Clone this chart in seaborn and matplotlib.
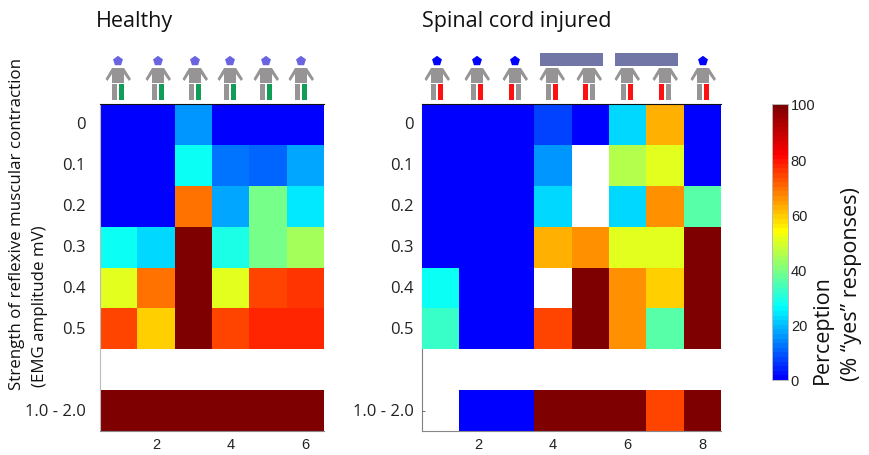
import numpy as np
import pandas as pd
import matplotlib
matplotlib.use("Agg")
import matplotlib.pyplot as plt
import seaborn as sns
from matplotlib.colors import LinearSegmentedColormap
from matplotlib.patches import Polygon, Rectangle

nan = np.nan

strength_labels = ["0", "0.1", "0.2", "0.3", "0.4", "0.5", "", "1.0 - 2.0"]
healthy_cols = [1, 2, 3, 4, 5, 6]
injured_cols = [1, 2, 3, 4, 5, 6, 7, 8]

healthy = [
    [0, 0, 16.5, 0, 0, 0],
    [0, 0, 27.5, 12, 10, 18],
    [0, 0, 69.5, 18, 39, 24],
    [27, 22, 100, 29, 39, 44],
    [51, 69.5, 100, 51, 73.5, 76.5],
    [73.5, 59.5, 100, 73.5, 78, 78],
    [nan, nan, nan, nan, nan, nan],
    [100, 100, 100, 100, 100, 100],
]
injured = [
    [0, 0, 0, 7.5, 0, 22, 62.5, 0],
    [0, 0, 0, 16.5, nan, 45, 51, 0],
    [0, 0, 0, 22, nan, 22, 66, 35.5],
    [0, 0, 0, 62.5, 66, 51, 51, 100],
    [27, 0, 0, nan, 100, 66, 59.5, 100],
    [33, 0, 0, 73.5, 100, 66, 35.5, 100],
    [nan, nan, nan, nan, nan, nan, nan, nan],
    [nan, 0, 0, 100, 100, 100, 73.5, 100],
]

# icon placement, px from the left of the figure (hand placed in the original)
healthy_icon_x = [118, 158, 195, 230, 266, 301]
injured_icon_x = [437, 477, 515, 552, 589, 627, 665, 703]
injured_red_leg = ["R", "R", "L", "R", "L", "R", "L", "R"]
injured_head = [True, True, True, False, False, False, False, True]

W, H = 870, 456
cmap = LinearSegmentedColormap.from_list(
    "jet_cut",
    [(0, "#0000ff"), (0.26, "#00ffff"), (0.54, "#ffff00"), (0.82, "#ff0000"), (1, "#7f0000")],
    N=60,
)

sns.set_theme(style="white")
plt.rcParams["font.family"] = ["Open Sans", "DejaVu Sans"]

fig = plt.figure(figsize=(W / 100, H / 100), dpi=100)


def add_axes(x0, y0, x1, y1):
    return fig.add_axes([x0 / W, 1 - y1 / H, (x1 - x0) / W, (y1 - y0) / H])


ax_h = add_axes(100, 105, 324, 432)
ax_i = add_axes(422, 105, 721, 432)
ax_c = add_axes(772, 105, 788, 381)

sns.heatmap(pd.DataFrame(healthy, index=strength_labels, columns=healthy_cols),
            ax=ax_h, cmap=cmap, vmin=0, vmax=100, cbar=False)
sns.heatmap(pd.DataFrame(injured, index=strength_labels, columns=injured_cols),
            ax=ax_i, cmap=cmap, vmin=0, vmax=100, cbar_ax=ax_c)

for ax, n, ypad, left_col in [(ax_h, 6, 10.5, "#bbbbbb"), (ax_i, 8, 6, "#808080")]:
    ax.set_xticks(np.arange(1.5, n, 2))
    ax.set_xticklabels(np.arange(2, n + 1, 2), rotation=0, fontsize=10.5,
                       family="Liberation Sans", color="#222222")
    ax.set_yticks(np.delete(np.arange(0.5, 8), 6))
    ax.set_yticklabels([s for s in strength_labels if s], rotation=0, fontsize=12, color="#222222")
    ax.tick_params(axis="x", direction="in", length=3, width=0.7, color="#222222", pad=4,
                   bottom=True, top=True)
    ax.tick_params(axis="y", direction="in", length=2.5, width=0.6, color="#555555", pad=ypad, left=True)
    ax.spines["bottom"].set_visible(True)
    ax.spines["bottom"].set_color("#888888")
    ax.spines["bottom"].set_linewidth(0.8)
    ax.spines["left"].set_visible(True)
    ax.spines["left"].set_color(left_col)
    ax.spines["left"].set_linewidth(0.8)
    ax.spines["top"].set_visible(True)
    ax.spines["top"].set_color("#111111")
    ax.spines["top"].set_linewidth(0.8)

ax_i.spines["left"].set_zorder(0.5)

ax_h.text(-0.02, 1.255, "Healthy", transform=ax_h.transAxes, fontsize=15.5, color="#111111", va="center")
ax_i.text(0, 1.255, "Spinal cord injured", transform=ax_i.transAxes, fontsize=15.5, color="#111111", va="center")

fig.text(17 / W, 1 - 224 / H, "Strength of reflexive muscular contraction", rotation=90,
         fontsize=12.2, color="#111111", ha="center", va="center")
fig.text(40 / W, 1 - 306 / H, "(EMG amplitude mV)", rotation=90,
         fontsize=12.2, color="#111111", ha="center", va="center")

ax_c.set_yticks([0, 20, 40, 60, 80, 100])
ax_c.set_yticklabels(["0", "20", "40", "60", "80", "100"], fontsize=10.5,
                     family="Liberation Sans", color="#222222")
ax_c.tick_params(axis="y", direction="in", length=2.5, width=0.6, pad=2, color="#222222", right=True)
for sp in ax_c.spines.values():
    sp.set_visible(True)
    sp.set_color("#bbbbbb")
    sp.set_linewidth(0.6)

fig.text(822 / W, 1 - 330 / H, "Perception", rotation=90, fontsize=15.5, color="#111111", ha="center", va="center")
fig.text(852 / W, 1 - 284 / H, "(% \u201cyes\u201d responses)", rotation=90, fontsize=15.5,
         color="#111111", ha="center", va="center")

# overlay in pixel coordinates for the little figures above the maps
ov = fig.add_axes([0, 0, 1, 1])
ov.set_xlim(0, W)
ov.set_ylim(H, 0)
ov.axis("off")
ov.patch.set_alpha(0)

GRAY = "#969494"


def person(x, leg_side, leg_color, head_color):
    ov.add_patch(Rectangle((x - 6, 69), 12.5, 15, color=GRAY, lw=0))
    ov.add_patch(Polygon([(x - 6, 69), (x - 12.5, 80), (x - 10.5, 82), (x - 6, 75)], color=GRAY, lw=0))
    ov.add_patch(Polygon([(x + 6, 69), (x + 13, 80), (x + 11, 82), (x + 6, 75)], color=GRAY, lw=0))
    left = leg_color if leg_side == "L" else GRAY
    right = leg_color if leg_side == "R" else GRAY
    ov.add_patch(Rectangle((x - 5.5, 85), 4.8, 16, color=left, lw=0))
    ov.add_patch(Rectangle((x + 1.5, 85), 4.2, 16, color=right, lw=0))
    if head_color:
        ang = np.deg2rad(90 + 72 * np.arange(5))
        ov.add_patch(Polygon(np.c_[x + 5.2 * np.cos(ang), 62 - 5.2 * np.sin(ang)], color=head_color, lw=0))


for x in healthy_icon_x:
    person(x, "R", "#0f9d58", "#6a64e0")
for x, side, has_head in zip(injured_icon_x, injured_red_leg, injured_head):
    person(x, side, "#ff1010", "#0000ff" if has_head else None)
for x0, x1 in [(540, 603), (615, 678)]:
    ov.add_patch(Rectangle((x0, 54), x1 - x0, 13, color="#7276a6", lw=0))

fig.savefig("out.png", dpi=100)
